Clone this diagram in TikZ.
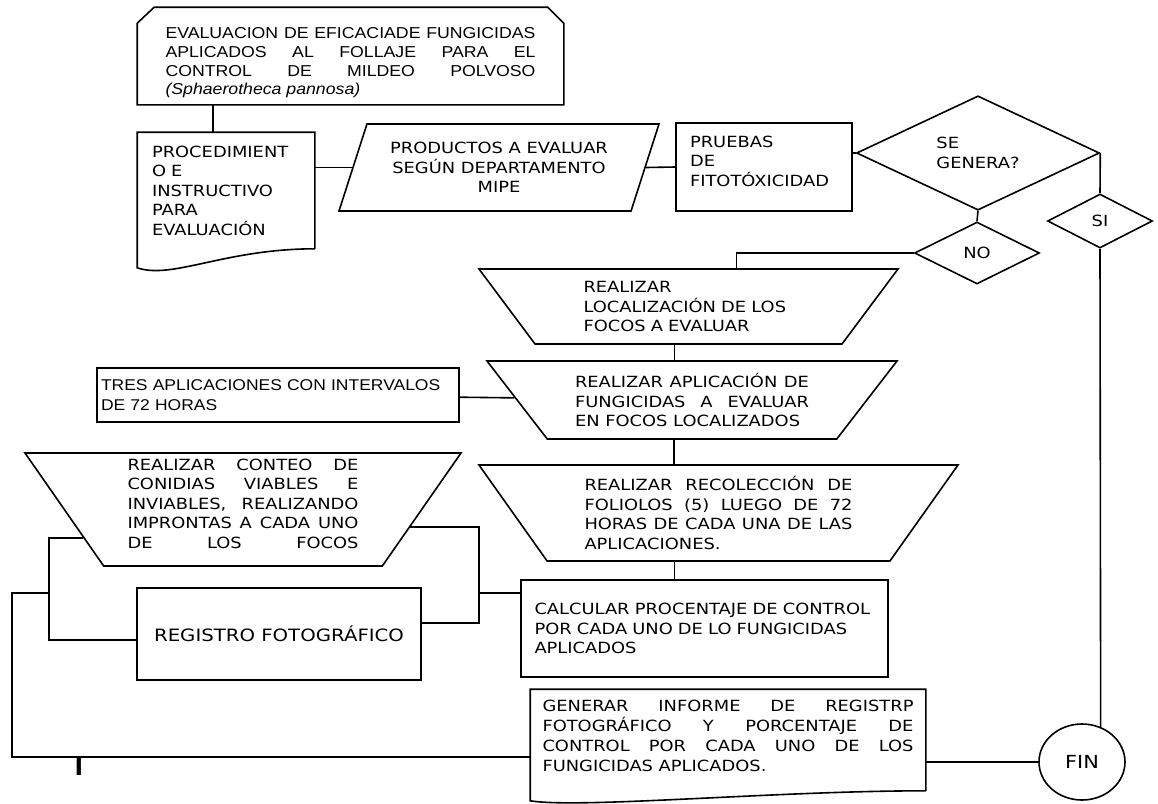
\documentclass[tikz,border=0pt]{standalone}
\usepackage{fontspec}
\setmainfont{DejaVu Sans}[FakeStretch=1.16]
\newfontfamily\titlefont{Liberation Sans}[FakeStretch=1.12]
\usetikzlibrary{shapes,shapes.geometric,shapes.misc,calc}

\begin{document}
\begin{tikzpicture}[x=0.5pt,y=-0.5pt,line width=0.8pt]
	\tikzstyle{every node} = [font=\fontsize{7.7}{9.75}\selectfont, inner sep=0pt]
	\tikzstyle{box} = [draw, rectangle, align=left]
	\tikzstyle{docbox} = [rectangle, align=left]
	\tikzstyle{trap} = [draw, trapezium, shape border rotate=180, trapezium stretches body]
	\tikzstyle{decision} = [draw, diamond]
	\useasboundingbox (0,0) rectangle (1158,804);

	\node[docbox, minimum width=212.5pt, minimum height=48pt, font=\titlefont\fontsize{7.9}{9.35}\selectfont] (title) at (350.5,56) {\raisebox{-3.5pt}[\height][\depth]{\parbox{185pt}{EVALUACION DE EFICACIADE FUNGICIDAS\linebreak APLICADOS AL FOLLAJE PARA EL\linebreak CONTROL DE MILDEO POLVOSO\linebreak \textit{(Sphaerotheca pannosa)}}}};
	\draw (title.south west) -- ($(title.north west)+(0,16)$) -- ($(title.north west)+(17,0)$) -- ($(title.north east)+(-16,0)$) -- ($(title.north east)+(0,16)$) -- (title.south east) -- cycle;

	\node[docbox, minimum width=88pt, minimum height=57.5pt, text width=74pt] (proc) at (226,190.5) {PROCEDIMIENT\\O E\\INSTRUCTIVO\\PARA\\EVALUACIÓN};
	\draw (proc.south east) -- (proc.north east) -- (proc.north west) -- ($(proc.south west)+(0,19)$) .. controls +(35,12) and +(-90,0) .. (proc.south east);

	\node[draw, trapezium, trapezium left angle=61, trapezium right angle=119, trapezium stretches body, minimum width=160pt, minimum height=43.5pt, align=center] (prod) at (499,167.5) {PRODUCTOS A EVALUAR\\SEGÚN DEPARTAMENTO\\MIPE};

	\node[box, minimum width=88pt, minimum height=44pt, text width=74pt] (pruebas) at (764,167) {PRUEBAS\\DE\\FITOTÓXICIDAD\rule[-6pt]{0pt}{0pt}};

	\node[decision, minimum width=121.5pt, minimum height=48pt, align=left] (dec) at (978,153) {SE\\GENERA?};
	\node[decision, minimum width=62.5pt, minimum height=31pt] (no) at (977,253) {NO};
	\node[decision, minimum width=52.5pt, minimum height=27pt] (si) at (1100,221) {SI};

	\node[trap, trapezium angle=42, minimum width=209.5pt, minimum height=37.5pt, text width=105pt, align=left] (loc) at (688.5,306.5) {REALIZAR\\LOCALIZACIÓN DE LOS\\FOCOS A EVALUAR};
	\node[trap, trapezium angle=41.6, minimum width=205pt, minimum height=39pt, text width=117pt, align=justify] (apl) at (692,400) {REALIZAR APLICACIÓN DE\linebreak FUNGICIDAS A EVALUAR\linebreak EN FOCOS LOCALIZADOS};
	\node[trap, trapezium angle=47, minimum width=239.5pt, minimum height=48pt, text width=134pt, align=justify] (rec) at (718.5,513) {REALIZAR RECOLECCIÓN DE\linebreak FOLIOLOS (5) LUEGO DE 72\linebreak HORAS DE CADA UNA DE LAS\linebreak APLICACIONES.};
	\node[trap, trapezium angle=52.2, minimum width=218pt, minimum height=56.5pt, text width=115.5pt, align=justify] (conteo) at (243,509.5) {REALIZAR CONTEO DE\linebreak CONIDIAS VIABLES E\linebreak INVIABLES, REALIZANDO\linebreak IMPRONTAS A CADA UNO\linebreak DE\hfill LOS\hfill FOCOS\rule[-6pt]{0pt}{0pt}};

	\node[box, minimum width=181pt, minimum height=27pt, text width=177pt, font=\titlefont\fontsize{7.8}{9.75}\selectfont] (tres) at (278,395) {TRES APLICACIONES CON INTERVALOS\\DE 72 HORAS};
	\node[box, minimum width=142pt, minimum height=46pt, align=center, font=\fontsize{8.5}{9.75}\selectfont] (reg) at (279,634) {REGISTRO FOTOGRÁFICO};
	\node[box, minimum width=183.5pt, minimum height=48.5pt, text width=170pt] (calc) at (704.5,628.5) {CALCULAR PROCENTAJE DE CONTROL\\POR CADA UNO DE LO FUNGICIDAS\\APLICADOS};

	\node[docbox, minimum width=197pt, minimum height=50pt, text width=185.5pt, align=justify, font=\fontsize{7.7}{10}\selectfont] (gen) at (728,740) {GENERAR INFORME DE REGISTRP\linebreak FOTOGRÁFICO Y PORCENTAJE DE\linebreak CONTROL POR CADA UNO DE LOS\linebreak FUNGICIDAS APLICADOS.\rule[-4pt]{0pt}{0pt}};
	\draw (gen.south east) -- (gen.north east) -- (gen.north west) -- ($(gen.south west)+(0,10)$) .. controls +(50,8) and +(-150,0) .. (gen.south east);

	\node[draw, ellipse, minimum width=43pt, minimum height=38pt, font=\fontsize{9}{9}\selectfont] (fin) at (1082,762) {FIN};
	\node[font=\titlefont\bfseries\fontsize{13}{13}\selectfont] (cursor) at (79,767) {I};

	\draw ($(proc.north)+(-13,0)$) -- ($(proc.north |- title.south)+(-13,0)$);
	\draw (prod.west) -- (prod.west -| proc.east);
	\draw (prod.east) -- (pruebas.west);
	\draw (dec.west) -- (dec.west -| pruebas.east);
	\draw (dec.south) -- (no.north);
	\draw (dec.east) -- (si.north);
	\draw (no.west) -| ($(loc.north)+(48,0)$);
	\draw ($(loc.south)+(-14,0)$) -- ($(loc.south |- apl.north)+(-14,0)$);
	\draw ($(apl.south)+(-18,0)$) -- ($(apl.south |- rec.north)+(-18,0)$);
	\draw ($(rec.south)+(-44,0)$) -- ($(rec.south |- calc.north)+(-44,0)$);
	\draw (tres) -- (apl);
	\draw (si.south) -- (fin.62);
	\draw (fin.west) -- (fin.west -| gen.east);

	\coordinate (lb) at (49,640);
	\coordinate (lj) at (49,593);
	\coordinate (lc) at (12,757);
	\coordinate (rb) at (479,623);
	\coordinate (rj) at (479,593);
	\draw (conteo.190) -| (lb) -- (lb -| reg.west);
	\draw (lj) -| (lc) -- (lc -| gen.west);
	\draw (conteo.354) -| (rb) -- (rb -| reg.east);
	\draw (rj) -- (rj -| calc.west);
\end{tikzpicture}
\end{document}
